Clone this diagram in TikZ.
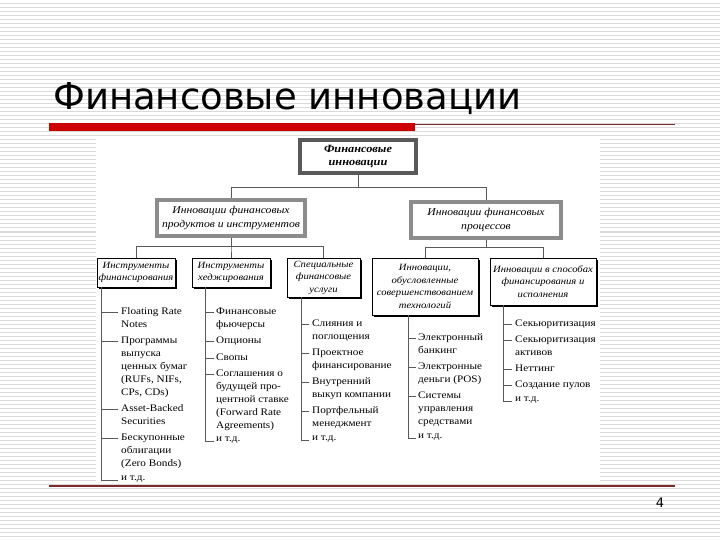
\documentclass[tikz,border=0pt]{standalone}
\usepackage{fontspec}
\setmainfont{Liberation Serif}
\newfontfamily\slidefont{DejaVu Sans}
\newfontfamily\chartfont[FakeStretch=1.12]{Liberation Serif}
\usetikzlibrary{positioning,shadows}

\definecolor{barred}{HTML}{CC0000}
\definecolor{rulered}{HTML}{7B2A2A}
\definecolor{stripe}{HTML}{DADADA}

\begin{document}
\begin{tikzpicture}[
    x=1pt, y=-1pt,
    every node/.style={
        inner sep=0pt,
        font=\chartfont\fontsize{10}{13}\selectfont
    },
    rootbox/.style={
        draw=black!65, line width=3.5pt, fill=white, align=center,
        minimum width=116pt, minimum height=33pt,
        font=\chartfont\bfseries\itshape\fontsize{11}{13}\selectfont
    },
    groupbox/.style={
        draw=black!45, line width=3.5pt, fill=white, align=center,
        minimum width=148pt, minimum height=36pt,
        font=\chartfont\itshape\fontsize{10.4}{14}\selectfont
    },
    kindbox/.style={
        draw, line width=0.8pt, fill=white, align=center,
        drop shadow={shadow xshift=1.6pt, shadow yshift=-1.6pt,
            fill=black, opacity=1},
        font=\chartfont\itshape\fontsize{9.5}{12.5}\selectfont
    },
    entry/.style={anchor=north west, align=left},
    link/.style={draw=black!65, line width=0.7pt}
]

% Slide
\useasboundingbox (0,0) rectangle (720,540);
\foreach \y in {0,4,...,540}
    \draw[stripe, line width=1pt] (0,\y) -- (720,\y);
\fill[white] (96,138) rectangle (600,484);
\node[anchor=base west, font=\slidefont\fontsize{37}{40}\selectfont]
    (title) at (53,110) {Финансовые инновации};
\fill[barred] (49,123) rectangle (415,131);
\draw[rulered, line width=0.9pt] (415,124) -- (675,124);
\draw[rulered, line width=1.2pt] (49,486) -- (675,486);
\node[font=\slidefont\fontsize{13}{15}\selectfont] (page) at (660,503) {4};

% Tree
\node[rootbox] (root) at (358,156.5) {Финансовые\\инновации};
\node[groupbox] (prod) at (231,218) {Инновации финансовых\\продуктов и инструментов};
\node[groupbox, minimum width=150pt] (proc) at (486,220) {Инновации финансовых\\процессов};

\node[kindbox, minimum width=78pt, minimum height=29pt] (fin) at (136,272.5) {Инструменты\\финансирования};
\node[kindbox, minimum width=78pt, minimum height=29pt] (hedge) at (231,272.5) {Инструменты\\хеджирования};
\node[kindbox, minimum width=73pt, minimum height=39pt] (serv) at (323.5,277.5) {Специальные\\финансовые\\услуги};
\node[kindbox, minimum width=106pt, minimum height=57pt] (tech) at (425,286.5) {Инновации,\\обусловленные\\совершенствованием\\технологий};
\node[kindbox, minimum width=106pt, minimum height=47pt] (ways) at (543,281.5) {Инновации в способах\\финансирования и\\исполнения};

\draw[link] (root.south) -- ++(0,13) -| (prod.north);
\draw[link] (root.south) -- ++(0,13) -| (proc.north);
\draw[link] (prod.south) -- ++(0,9) -| (fin.north);
\draw[link] (prod.south) -- ++(0,9) -| (hedge.north);
\draw[link] (prod.south) -- ++(0,9) -| (serv.north);
\draw[link] (proc.south) -- ++(0,8) -| (tech.north);
\draw[link] (proc.south) -- ++(0,8) -| (ways.north);

% Lists
\node[entry] (fin1) at (121,307.5) {Floating Rate\\Notes};
\node[entry] (fin2) at (121,336.5) {Программы\\выпуска\\ценных бумаг\\(RUFs, NIFs,\\CPs, CDs)};
\node[entry] (fin3) at (121,404.5) {Asset-Backed\\Securities};
\node[entry] (fin4) at (121,433.5) {Бескупонные\\облигации\\(Zero Bonds)};
\node[entry] (fin5) at (121,475.5) {и т.д.};

\node[entry] (hedge1) at (216,307.5) {Финансовые\\фьючерсы};
\node[entry] (hedge2) at (216,336.5) {Опционы};
\node[entry] (hedge3) at (216,353.5) {Свопы};
\node[entry] (hedge4) at (216,369.5) {Соглашения о\\будущей про-\\центной ставке\\(Forward Rate\\Agreements)};
\node[entry] (hedge5) at (216,436.5) {и т.д.};

\node[entry] (serv1) at (312,319.5) {Слияния и\\поглощения};
\node[entry] (serv2) at (312,348.5) {Проектное\\финансирование};
\node[entry] (serv3) at (312,377.5) {Внутренний\\выкуп компании};
\node[entry] (serv4) at (312,406.5) {Портфельный\\менеджмент};
\node[entry] (serv5) at (312,435.5) {и т.д.};

\node[entry] (tech1) at (418,333.5) {Электронный\\банкинг};
\node[entry] (tech2) at (418,362.5) {Электронные\\деньги (POS)};
\node[entry] (tech3) at (418,391.5) {Системы\\управления\\средствами};
\node[entry] (tech4) at (418,433.5) {и т.д.};

\node[entry] (ways1) at (515,319.5) {Секьюритизация};
\node[entry] (ways2) at (515,335.5) {Секьюритизация\\активов};
\node[entry] (ways3) at (515,364.5) {Неттинг};
\node[entry] (ways4) at (515,380.5) {Создание пулов};
\node[entry] (ways5) at (515,396.5) {и т.д.};

\draw[link] (fin.south -| 101,0) |- ([shift={(-3pt,-4.5pt)}]fin5.north west);
\foreach \i in {1,...,4}
    \draw[link] ([shift={(-3pt,-4.5pt)}]fin\i.north west) -- ++(-17,0);
\draw[link] (hedge.south -| 205,0) |- ([shift={(-2pt,-4.5pt)}]hedge5.north west);
\foreach \i in {1,...,4}
    \draw[link] ([shift={(-2pt,-4.5pt)}]hedge\i.north west) -- ++(-9,0);
\draw[link] (serv.south -| 301,0) |- ([shift={(-3pt,-4.5pt)}]serv5.north west);
\foreach \i in {1,...,4}
    \draw[link] ([shift={(-3pt,-4.5pt)}]serv\i.north west) -- ++(-8,0);
\draw[link] (tech.south -| 408,0) |- ([shift={(-2pt,-4.5pt)}]tech4.north west);
\foreach \i in {1,...,3}
    \draw[link] ([shift={(-2pt,-4.5pt)}]tech\i.north west) -- ++(-8,0);
\draw[link] (ways.south -| 503,0) |- ([shift={(-3pt,-4.5pt)}]ways5.north west);
\foreach \i in {1,...,4}
    \draw[link] ([shift={(-3pt,-4.5pt)}]ways\i.north west) -- ++(-9,0);

\end{tikzpicture}
\end{document}
